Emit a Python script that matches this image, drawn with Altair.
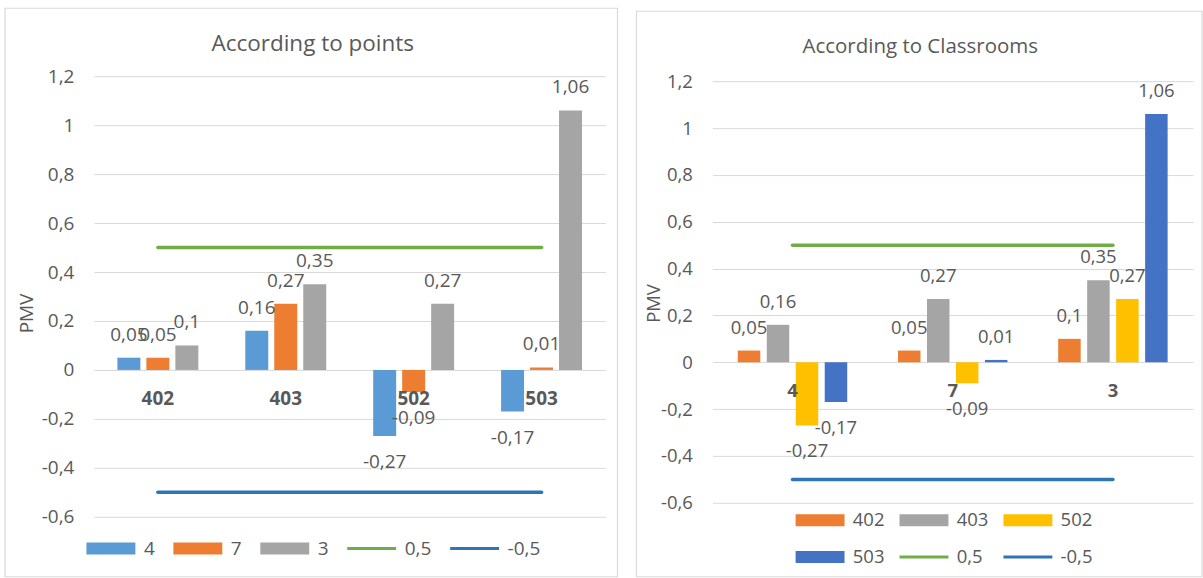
import altair as alt
import pandas as pd

# ---------------- data ----------------
point_categories = ["402", "403", "502", "503"]
point_series = ["4", "7", "3"]
point_values_4 = [0.05, 0.16, -0.27, -0.17]
point_values_7 = [0.05, 0.27, -0.09, 0.01]
point_values_3 = [0.1, 0.35, 0.27, 1.06]

room_categories = ["4", "7", "3"]
room_series = ["402", "403", "502", "503"]
room_values_402 = [0.05, 0.05, 0.1]
room_values_403 = [0.16, 0.27, 0.35]
room_values_502 = [-0.27, -0.09, 0.27]
room_values_503 = [-0.17, 0.01, 1.06]

ref_names = ["0,5", "-0,5"]
ref_values = [0.5, -0.5]

y_ticks = [-0.6, -0.4, -0.2, 0, 0.2, 0.4, 0.6, 0.8, 1, 1.2]

FONT = "Open Sans"
TXT = "#595959"
GRID = "#D9D9D9"
RECT_PATH = "M-4.08,-1H4.08V1H-4.08Z"
LINE_PATH = "M-4.08,-0.25H4.08V0.25H-4.08Z"


def bar_frame(cats, series, values):
    rows = []
    for s, vals in zip(series, values):
        for c, v in zip(cats, vals):
            rows.append({"cat": c, "series": s, "value": v})
    return pd.DataFrame(rows)


def line_frame(cats):
    rows = []
    for n, v in zip(ref_names, ref_values):
        for c in cats:
            rows.append({"cat": c, "series": n, "value": v})
    return pd.DataFrame(rows)


def panel(title, cats, series, values, colors, width, height, y_range,
          x_axis_offset, off_pi, off_po, title_xy, title_size, fs, frame_box,
          legend_cfg, pmv_xy):
    bars_df = bar_frame(cats, series, values)
    lines_df = line_frame(cats)
    all_df = pd.concat([bars_df, lines_df], ignore_index=True)

    domain = series + ref_names
    shapes = [RECT_PATH] * len(series) + [LINE_PATH] * len(ref_names)
    leg = alt.Legend(
        orient="none", title=None, direction="horizontal",
        columns=legend_cfg["columns"], legendX=legend_cfg["x"], legendY=legend_cfg["y"],
        symbolSize=144, symbolStrokeWidth=0, symbolOpacity=1,
        labelOffset=23.5, columnPadding=legend_cfg["colpad"], rowPadding=legend_cfg["rowpad"],
        labelFont=FONT, labelFontSize=fs, labelColor=TXT,
    )
    color = alt.Color("series:N", scale=alt.Scale(domain=domain, range=colors), legend=leg)
    shape = alt.Shape("series:N", scale=alt.Scale(domain=domain, range=shapes), legend=leg)

    x_enc = alt.X(
        "cat:N", sort=cats,
        scale=alt.Scale(domain=cats, paddingInner=0, paddingOuter=0),
        axis=alt.Axis(title=None, offset=x_axis_offset, domain=False, ticks=False, tickSize=0,
                      labelPadding=20, labelAngle=0, labelFont=FONT, labelFontSize=fs,
                      labelFontWeight="bold", labelColor=TXT, grid=False, zindex=1),
    )
    yscale_kwargs = dict(domain=[-0.6, 1.2], nice=False, zero=False)
    if y_range is not None:
        yscale_kwargs["range"] = y_range
    y_enc = alt.Y(
        "value:Q", scale=alt.Scale(**yscale_kwargs),
        axis=alt.Axis(values=y_ticks, labelExpr="replace(toString(datum.value), '.', ',')",
                      grid=True, gridColor=GRID, gridWidth=1, domain=False, ticks=False,
                      labelPadding=20, labelFont=FONT, labelFontSize=fs, labelColor=TXT,
                      title="PMV", titleFont=FONT, titleFontSize=fs, titleFontWeight="normal",
                      titleColor=TXT, titleAngle=-90, titleBaseline="middle",
                      titleX=pmv_xy[0], titleY=pmv_xy[1], zindex=0),
    )
    xo = alt.XOffset("series:N", scale=alt.Scale(domain=series, paddingInner=off_pi, paddingOuter=off_po))

    frame = alt.Chart(pd.DataFrame({"k": [0]})).mark_rect(
        fillOpacity=0, stroke=GRID, strokeWidth=1.2
    ).encode(
        x=alt.value(frame_box[0]), x2=alt.value(frame_box[1]),
        y=alt.value(frame_box[2]), y2=alt.value(frame_box[3]),
    )

    bars = alt.Chart(bars_df).mark_bar().encode(x=x_enc, xOffset=xo, y=y_enc, color=color)

    lines = alt.Chart(lines_df).mark_line(strokeWidth=3.5, strokeCap="round").encode(
        x=x_enc, y=y_enc, color=color
    )

    lab = alt.Chart(bars_df).transform_calculate(
        lbl="replace(toString(datum.value), '.', ',')"
    )
    pos = lab.transform_filter("datum.value >= 0").mark_text(
        dy=-23, baseline="middle", align="center", font=FONT, fontSize=fs, color=TXT
    ).encode(x=x_enc, xOffset=xo, y=y_enc, text="lbl:N")
    neg = lab.transform_filter("datum.value < 0").mark_text(
        dy=26, baseline="middle", align="center", font=FONT, fontSize=fs, color=TXT
    ).encode(x=x_enc, xOffset=xo, y=y_enc, text="lbl:N")

    legend_pts = alt.Chart(all_df).mark_point(filled=True, opacity=0, size=144).encode(
        color=color, shape=shape
    )

    ttl = alt.Chart(pd.DataFrame({"t": [title]})).mark_text(
        font=FONT, fontSize=title_size, color=TXT, align="center", baseline="middle"
    ).encode(text="t:N", x=alt.value(title_xy[0]), y=alt.value(title_xy[1]))

    return alt.layer(frame, bars, lines, pos, neg, legend_pts, ttl).properties(
        width=width, height=height
    )


left = panel(
    "According to points", point_categories, point_series,
    [point_values_4, point_values_7, point_values_3],
    ["#5B9BD5", "#ED7D31", "#A5A5A5", "#70AD47", "#2E75B6"],
    width=512, height=441, y_range=None, x_axis_offset=-147,
    off_pi=0.207, off_po=0.81, title_xy=(219, -32), title_size=22.5, fs=19,
    frame_box=(-89, 524, -68, 501),
    legend_cfg={"columns": 5, "x": 7.5, "y": 463, "colpad": 18, "rowpad": 18},
    pmv_xy=(-67, 237),
)

right = panel(
    "According to Classrooms", room_categories, room_series,
    [room_values_402, room_values_403, room_values_502, room_values_503],
    ["#ED7D31", "#A5A5A5", "#FFC000", "#4472C4", "#70AD47", "#2E75B6"],
    width=481, height=427, y_range=[427, 5], x_axis_offset=-141,
    off_pi=0.224, off_po=0.876, title_xy=(208, -29), title_size=20.5, fs=18.5,
    frame_box=(-76, 490, -65, 501),
    legend_cfg={"columns": 3, "x": 98.5, "y": 435, "colpad": 14, "rowpad": 18},
    pmv_xy=(-59, 227),
)

chart = alt.hconcat(left, right, spacing=107, bounds="flush").resolve_scale(
    color="independent", shape="independent", xOffset="independent",
    x="independent", y="independent",
).properties(
    padding={"left": 4, "top": 7, "right": 0, "bottom": 0}, background="white"
).configure_view(stroke=None)

chart.save("out.html", embed_options={"renderer": "svg", "actions": False})
